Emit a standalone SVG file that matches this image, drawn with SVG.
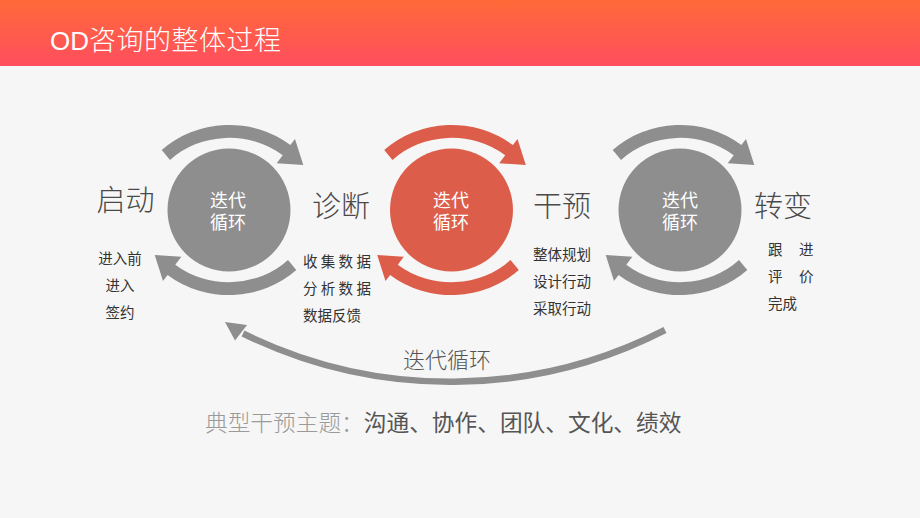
<svg xmlns="http://www.w3.org/2000/svg" xmlns:xlink="http://www.w3.org/1999/xlink" width="920" height="518" viewBox="0 0 920 518">
<defs>
<linearGradient id="hdr" x1="0" y1="0" x2="0" y2="1">
<stop offset="0" stop-color="#FF6A38"/>
<stop offset="1" stop-color="#FF4E5F"/>
</linearGradient>
<g id="arcpair">
<path d="M -67.3,-60 A 95 85 0 0 1 61.4,-64.9 L 66,-71 L 74.3,-45 L 47.7,-46.7 L 53.7,-54.7 A 82 72 0 0 0 -59,-50 Z"/>
<path d="M 67.3,60 A 95 85 0 0 1 -61.4,64.9 L -66,71 L -74.3,45 L -47.7,46.7 L -53.7,54.7 A 82 72 0 0 0 59,50 Z"/>
</g>
<style>
.cjk{font-family:"Noto Sans CJK SC","Noto Sans",sans-serif;}
.stage{font-size:29px;fill:#4A4A4A;font-weight:300;text-anchor:middle;}
.ctext{font-size:18px;fill:#FFFFFF;text-anchor:middle;}
.sub{font-size:14.5px;fill:#333333;}
.gray{fill:#8E8E8E;}
.red{fill:#DC5E4A;}
</style>
</defs>
<rect x="0" y="0" width="920" height="518" fill="#F6F6F6"/>
<g id="header">
<rect x="0" y="0" width="920" height="66" fill="url(#hdr)"/>
<text x="50" y="50" fill="#FFFFFF" font-family="Liberation Sans, Noto Sans CJK SC, sans-serif" font-size="26" font-weight="300">OD<tspan class="cjk" font-size="27" letter-spacing="0.5">咨询的整体过程</tspan></text>
</g>
<g id="connectors">
<use xlink:href="#arcpair" href="#arcpair" transform="translate(229,210)" class="gray"/>
<use xlink:href="#arcpair" href="#arcpair" transform="translate(451.5,210)" class="red"/>
<use xlink:href="#arcpair" href="#arcpair" transform="translate(680,210)" class="gray"/>
<path d="M 665,330 A 470 470 0 0 1 243,333.5" fill="none" stroke="#8E8E8E" stroke-width="6.5"/>
<polygon points="225,322 235,340.5 247,325" fill="#8E8E8E"/>
<text class="cjk" x="447" y="368" font-size="22" fill="#555555" text-anchor="middle" font-weight="300">迭代循环</text>
</g>
<g id="cycle1">
<circle cx="229" cy="210" r="61.5" class="gray"/>
<text class="cjk ctext" x="228" y="207">迭代<tspan x="228" dy="22">循环</tspan></text>
</g>
<g id="cycle2">
<circle cx="451.5" cy="210" r="61.5" class="red"/>
<text class="cjk ctext" x="451" y="207">迭代<tspan x="451" dy="22">循环</tspan></text>
</g>
<g id="cycle3">
<circle cx="680" cy="210" r="61.5" class="gray"/>
<text class="cjk ctext" x="680" y="207">迭代<tspan x="680" dy="22">循环</tspan></text>
</g>
<g id="stage-start">
<text class="cjk stage" x="125.5" y="211">启动</text>
<text class="cjk sub" x="120" y="264" text-anchor="middle">进入前</text>
<text class="cjk sub" x="120" y="291" text-anchor="middle">进入</text>
<text class="cjk sub" x="120" y="318" text-anchor="middle">签约</text>
</g>
<g id="stage-diagnose">
<text class="cjk stage" x="341" y="217">诊断</text>
<text class="cjk sub" x="303" y="267" letter-spacing="3.3">收集数据</text>
<text class="cjk sub" x="303" y="294" letter-spacing="3.3">分析数据</text>
<text class="cjk sub" x="303" y="321">数据反馈</text>
</g>
<g id="stage-intervene">
<text class="cjk stage" x="562" y="217">干预</text>
<text class="cjk sub" x="533" y="260">整体规划</text>
<text class="cjk sub" x="533" y="287">设计行动</text>
<text class="cjk sub" x="533" y="314">采取行动</text>
</g>
<g id="stage-change">
<text class="cjk stage" x="783" y="217">转变</text>
<text class="cjk sub" y="255"><tspan x="768">跟</tspan><tspan x="799">进</tspan></text>
<text class="cjk sub" y="282"><tspan x="768">评</tspan><tspan x="799">价</tspan></text>
<text class="cjk sub" x="768" y="309">完成</text>
</g>
<g id="themes">
<text class="cjk" x="205" y="431" font-size="22.7"><tspan fill="#9A9A9A" font-weight="300">典型干预主题：</tspan><tspan fill="#555555">沟通、协作、团队、文化、绩效</tspan></text>
</g>
</svg>
